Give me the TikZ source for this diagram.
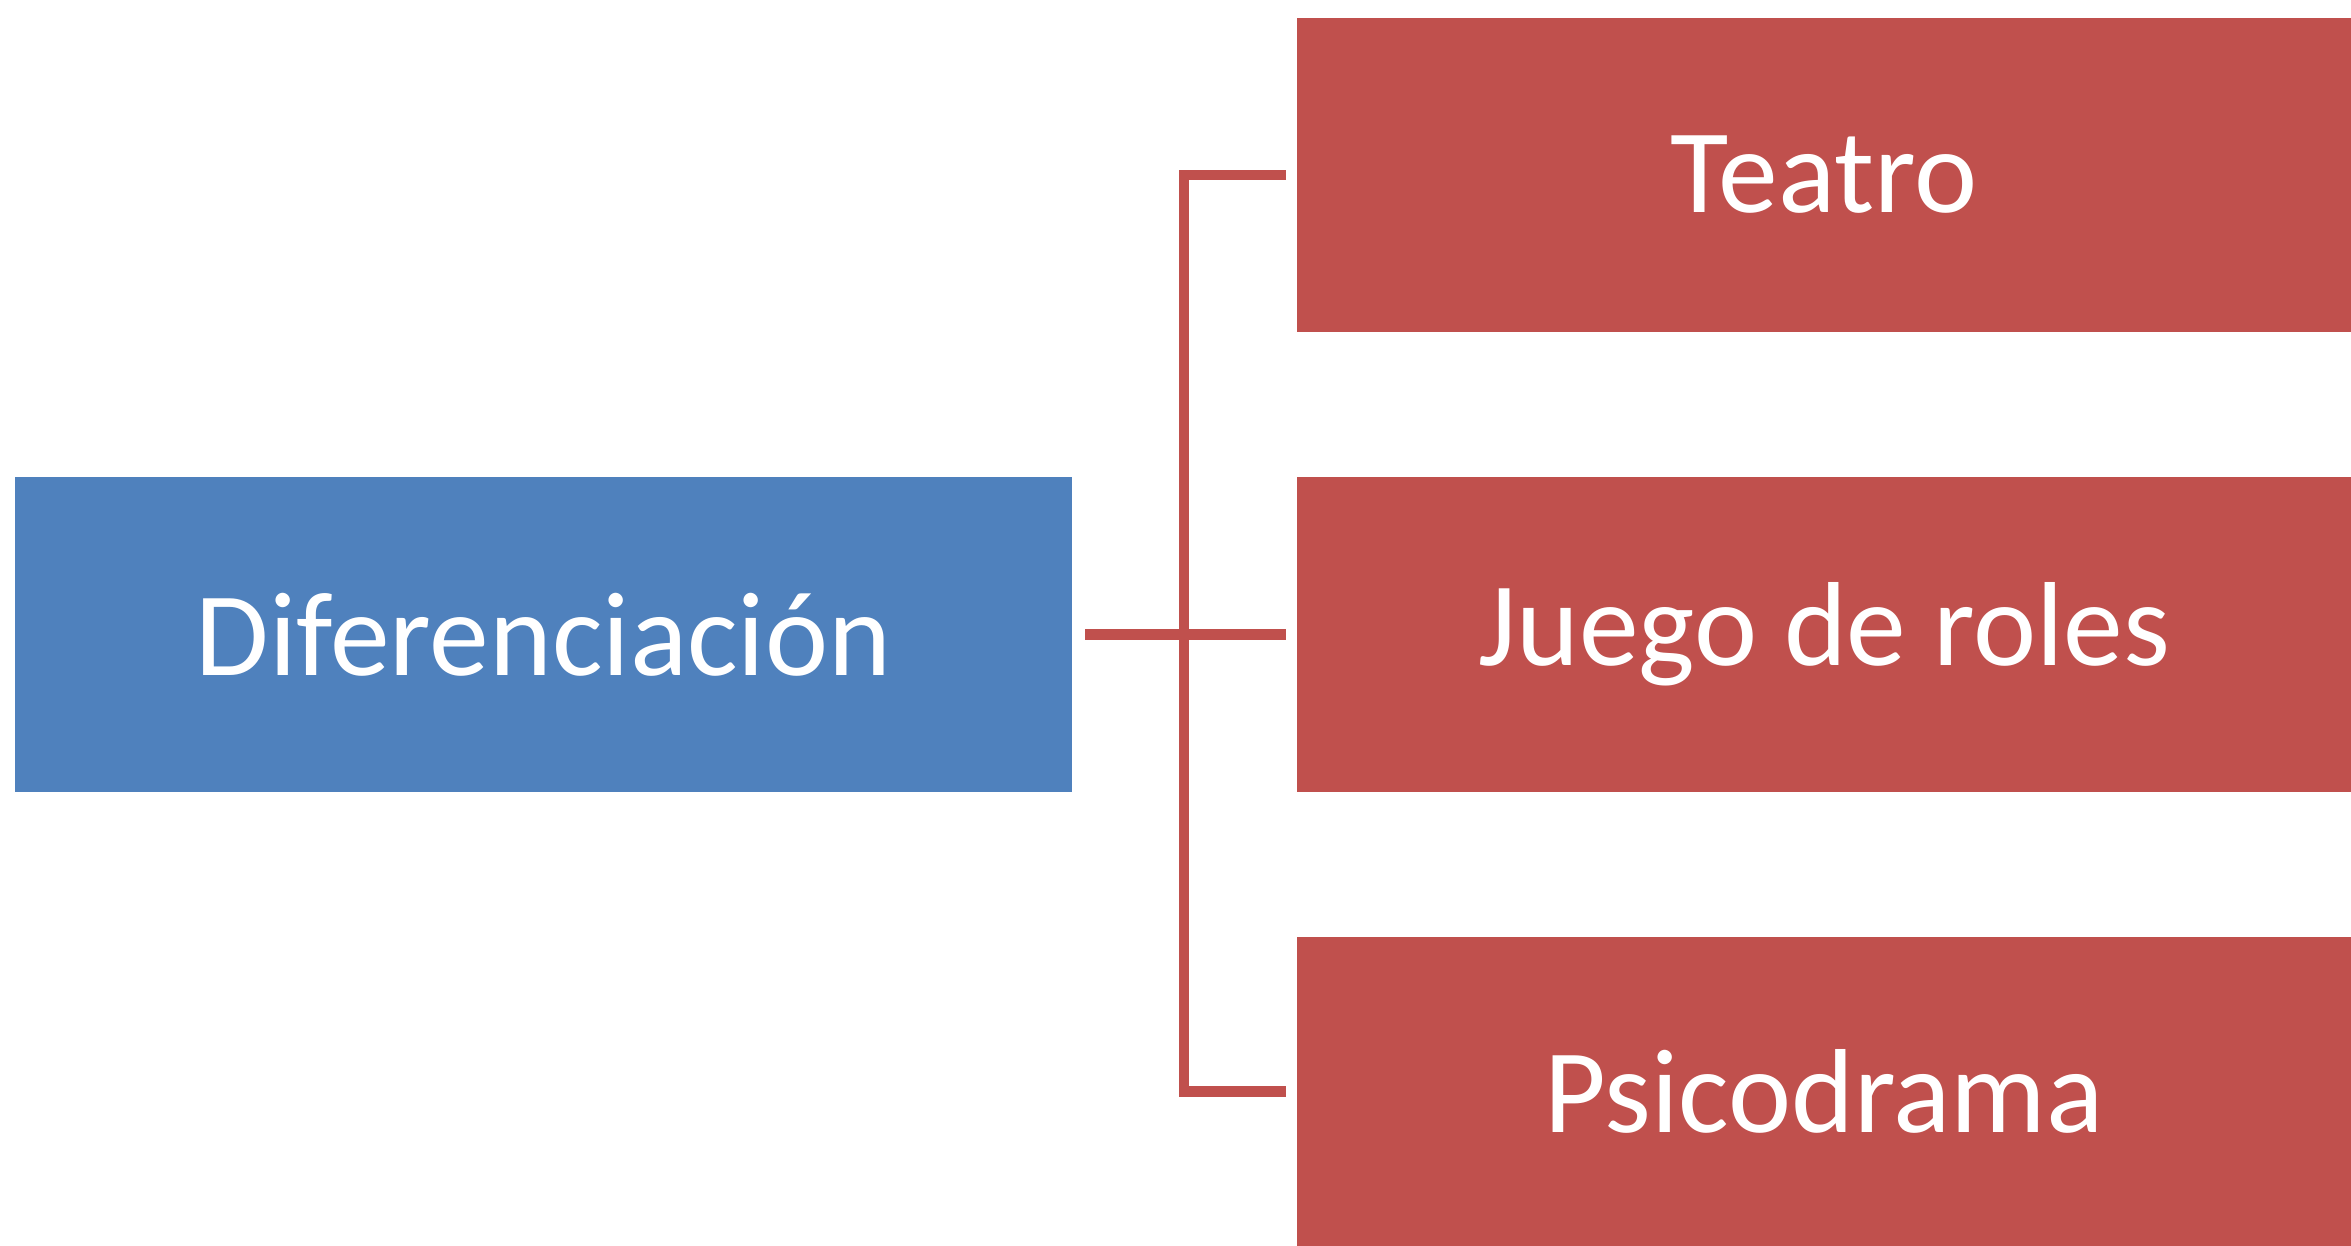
\documentclass[tikz,border=0pt]{standalone}
\usepackage{fontspec}
\setmainfont{Carlito}
\definecolor{boxblue}{HTML}{4F81BD}
\definecolor{boxred}{HTML}{C0504D}
\begin{document}
\begin{tikzpicture}[x=0.01cm,y=-0.01cm,
  box/.style={rectangle, inner sep=0pt, text=white, font=\fontsize{34}{40}\selectfont},
  bluebox/.style={box, fill=boxblue},
  redbox/.style={box, fill=boxred},
  conn/.style={draw=boxred, line width=2.85pt, line join=miter}]
\useasboundingbox (0,0) rectangle (2351,1246);
\fill[white] (0,0) rectangle (2351,1246);
\node[bluebox, minimum width=10.57cm, minimum height=3.15cm] (d) at (543.5,634.5) {Diferenciación};
\node[redbox, minimum width=10.54cm, minimum height=3.14cm] (t) at (1824,175) {Teatro};
\node[redbox, minimum width=10.54cm, minimum height=3.15cm] (j) at (1824,634.5) {Juego de roles};
\node[redbox, minimum width=10.54cm, minimum height=3.09cm] (p) at (1824,1091.5) {Psicodrama};
\coordinate (bt) at (1184,175);
\coordinate (bb) at (1184,1091.5);
\coordinate (te) at ([xshift=-0.1cm]t.west);
\coordinate (pe) at ([xshift=-0.1cm]p.west);
\coordinate (ds) at ([xshift=0.12cm]d.east);
\coordinate (je) at ([xshift=-0.1cm]j.west);
\draw[conn] (te) -- (bt) -- (bb) -- (pe);
\draw[conn] (ds) -- (je);
\end{tikzpicture}
\end{document}
